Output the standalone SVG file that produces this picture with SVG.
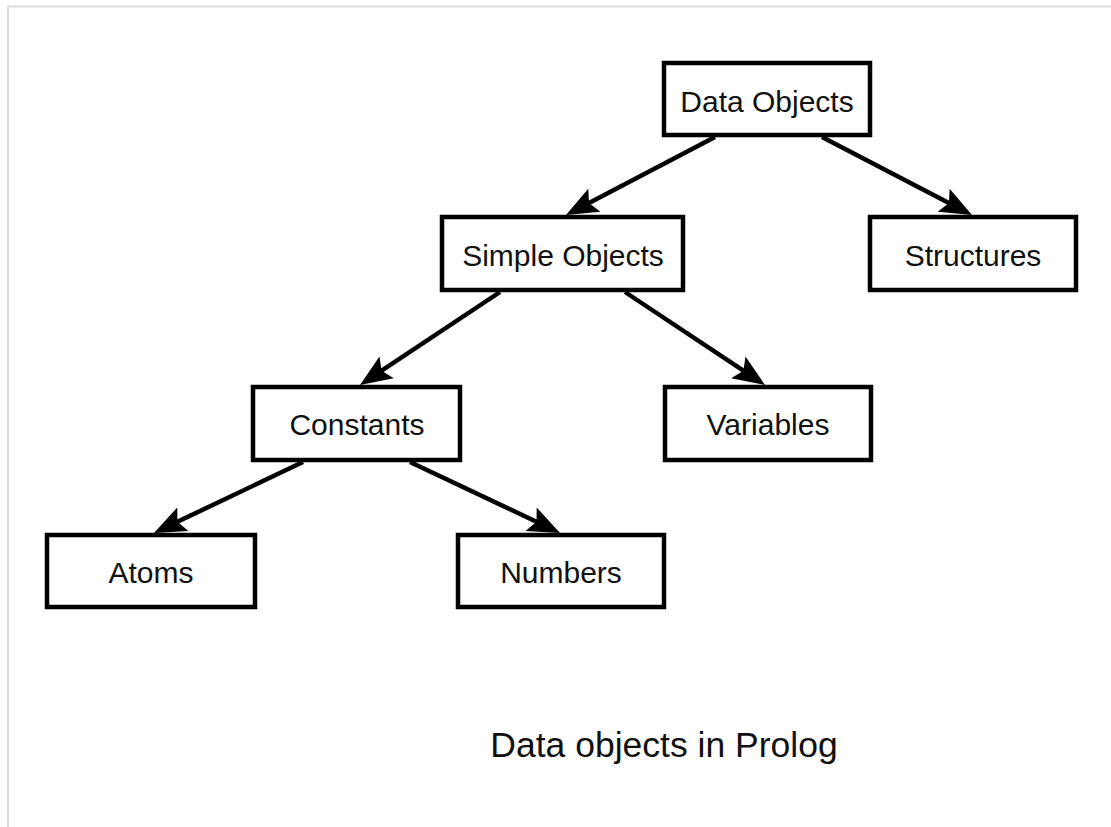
<svg xmlns="http://www.w3.org/2000/svg" width="1111" height="827" viewBox="0 0 1111 827">
<style>
.box{fill:#fff;stroke:#000;stroke-width:4.5}
.lbl{font-family:"Liberation Sans",Arial,sans-serif;font-size:30px;fill:#111;text-anchor:middle}
.edge{stroke:#000;stroke-width:4.5;fill:none;marker-end:url(#ah)}
</style>
<defs>
<marker id="ah" markerUnits="userSpaceOnUse" viewBox="0 -14 34 28" markerWidth="34" markerHeight="28" refX="20" refY="0" orient="auto">
<path d="M0,-13 L32,0 L0,13 L6,0 Z" fill="#000"/>
</marker>
</defs>
<rect width="1111" height="827" fill="#fff"/>
<path d="M8,827 V6.5 H1111" fill="none" stroke="#dedede" stroke-width="2"/>
<g id="connectors">
<line class="edge" x1="715" y1="137" x2="576.6" y2="209.5"/>
<line class="edge" x1="822" y1="137" x2="961.4" y2="209.5"/>
<line class="edge" x1="500" y1="292" x2="370" y2="378.4"/>
<line class="edge" x1="625" y1="292" x2="755" y2="378.4"/>
<line class="edge" x1="303" y1="462" x2="164.8" y2="527.8"/>
<line class="edge" x1="410" y1="462" x2="549.2" y2="527.8"/>
</g>
<g id="data-objects"><rect class="box" x="664" y="63" width="206" height="72"/><text class="lbl" x="767" y="112">Data Objects</text></g>
<g id="simple-objects"><rect class="box" x="442" y="217" width="241" height="73"/><text class="lbl" x="563" y="266">Simple Objects</text></g>
<g id="structures"><rect class="box" x="870" y="217" width="206" height="73"/><text class="lbl" x="973" y="266">Structures</text></g>
<g id="constants"><rect class="box" x="253" y="387" width="207" height="73"/><text class="lbl" x="357" y="435">Constants</text></g>
<g id="variables"><rect class="box" x="665" y="387" width="206" height="73"/><text class="lbl" x="768" y="435">Variables</text></g>
<g id="atoms"><rect class="box" x="47" y="535" width="208" height="72"/><text class="lbl" x="151" y="583">Atoms</text></g>
<g id="numbers"><rect class="box" x="458" y="535" width="206" height="72"/><text class="lbl" x="561" y="583">Numbers</text></g>
<text class="lbl" x="664" y="757" style="font-size:35.5px">Data objects in Prolog</text>
</svg>
